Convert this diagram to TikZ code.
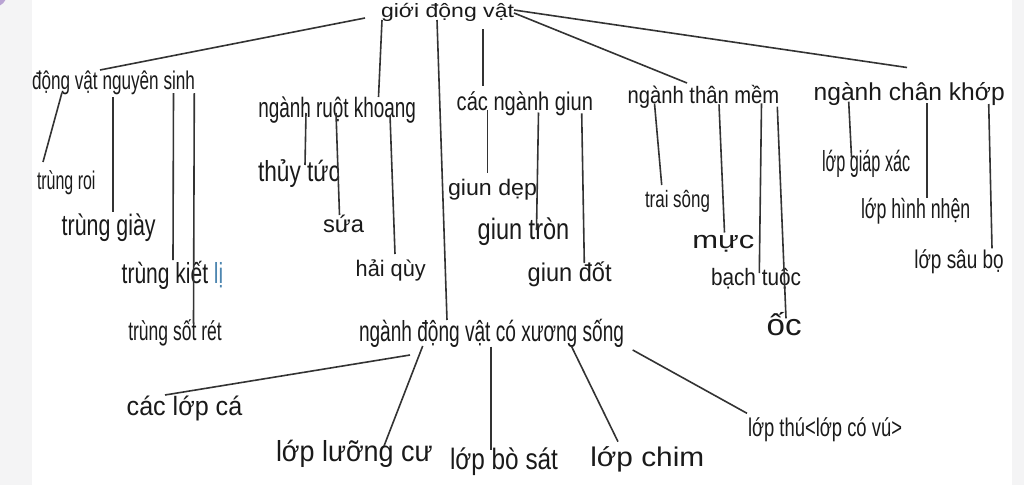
\documentclass[tikz,border=0pt]{standalone}
\usepackage{fontspec}
\setmainfont{Liberation Sans}
\usepackage{graphicx}
\definecolor{txt}{HTML}{1A1A1A}
\definecolor{ln}{HTML}{333333}
\definecolor{bg}{HTML}{F4F4F5}
\definecolor{lblue}{HTML}{4D86B0}
\definecolor{lav}{HTML}{B9A3D3}
\newcommand\lab[3]{\resizebox{#2pt}{\height}{\fontsize{#1pt}{#1pt}\selectfont #3}}
\begin{document}
\begin{tikzpicture}[x=1pt,y=-1pt,
  lbl/.style={anchor=base west, inner sep=0pt, outer sep=0pt, text=txt},
  conn/.style={draw=ln, line width=1.6pt}]
\useasboundingbox (0,0) rectangle (1024,485);
\fill[bg] (0,0) rectangle (1024,485);
\fill[white] (32,0) rectangle (1012,485);
\begin{scope}
\clip (0,0) rectangle (1024,485);
\fill[lav] (-6,-6) circle (13);
\end{scope}

% nodes
\node[lbl] (gioi) at (381,17) {\lab{19.3}{133}{giới động vật}};
\node[lbl] (ns) at (32,89) {\lab{25.6}{163}{động vật nguyên sinh}};
\node[lbl] (roi) at (37,189) {\lab{25.6}{58.5}{trùng roi}};
\node[lbl] (giay) at (61.7,235) {\lab{29.5}{94}{trùng giày}};
\node[lbl] (kiet) at (121.7,283.3) {\lab{29}{101.6}{trùng kiết \textcolor{lblue}{lị}}};
\node[lbl] (sot) at (128.3,340) {\lab{27}{93.4}{trùng sốt rét}};
\node[lbl] (rk) at (258.3,117.3) {\lab{28}{157.7}{ngành ruột khoang}};
\node[lbl] (thuy) at (258,181.7) {\lab{29}{82}{thủy tức}};
\node[lbl] (sua) at (323,232) {\lab{23.7}{41}{sứa}};
\node[lbl] (hq) at (355.7,276.7) {\lab{22.5}{70}{hải qùy}};
\node[lbl] (cng) at (456.7,110) {\lab{25.6}{136.3}{các ngành giun}};
\node[lbl] (dep) at (448,195) {\lab{22.5}{89}{giun dẹp}};
\node[lbl] (tron) at (477.7,239.3) {\lab{29.5}{91.6}{giun tròn}};
\node[lbl] (dot) at (527.7,281.7) {\lab{25.6}{84}{giun đốt}};
\node[lbl] (xs) at (359,341) {\lab{29}{265}{ngành động vật có xương sống}};
\node[lbl] (tm) at (627.7,103.3) {\lab{23.7}{151.6}{ngành thân mềm}};
\node[lbl] (trai) at (645,207.3) {\lab{23.7}{65}{trai sông}};
\node[lbl] (muc) at (692.3,248.3) {\lab{24.5}{62}{mực}};
\node[lbl] (bach) at (711,285) {\lab{23.7}{90}{bạch tuộc}};
\node[lbl] (oc) at (766.7,335) {\lab{30}{35}{ốc}};
\node[lbl] (ck) at (813.7,100) {\lab{24.5}{191}{ngành chân khớp}};
\node[lbl] (gx) at (822,171.7) {\lab{29}{88.3}{lớp giáp xác}};
\node[lbl] (hn) at (861,218.3) {\lab{27.5}{109.3}{lớp hình nhện}};
\node[lbl] (sb) at (914.3,268.3) {\lab{25.6}{89.4}{lớp sâu bọ}};
\node[lbl] (ca) at (126.7,415) {\lab{26.5}{115.6}{các lớp cá}};
\node[lbl] (lc) at (276,461.7) {\lab{29}{156.7}{lớp lưỡng cư}};
\node[lbl] (bs) at (450,469.3) {\lab{29.5}{108}{lớp bò sát}};
\node[lbl] (chim) at (590.3,466.7) {\lab{27}{114}{lớp chim}};
\node[lbl] (thu) at (748,436.7) {\lab{25.6}{154}{lớp thú<lớp có vú>}};

% connectors
\draw[conn] ([shift={(-16,1)}]gioi.base west) -- ([shift={(68,-19)}]ns.base west);
\draw[conn] ([shift={(1,3)}]gioi.base west) -- ([shift={(120.2,-20.3)}]rk.base west);
\draw[conn] ([shift={(56,3)}]gioi.base west) -- ([shift={(88,-21)}]xs.base west);
\draw[conn] ([shift={(102,12)}]gioi.base west) -- ([shift={(26.3,-24)}]cng.base west);
\draw[conn] ([shift={(133,-4)}]gioi.base west) -- ([shift={(59.3,-20.3)}]tm.base west);
\draw[conn] ([shift={(133,-7)}]gioi.base west) -- ([shift={(93.3,-32.5)}]ck.base west);

\draw[conn] ([shift={(30,3.5)}]ns.base west) -- ([shift={(6,-27)}]roi.base west);
\draw[conn] ([shift={(80.7,8)}]ns.base west) -- ([shift={(51,-23)}]giay.base west);
\draw[conn] ([shift={(141.5,4)}]ns.base west) -- ([shift={(51.3,-23.3)}]kiet.base west);
\draw[conn] ([shift={(162.3,4)}]ns.base west) -- ([shift={(65.2,-16.5)}]sot.base west);

\draw[conn] ([shift={(47.7,-4.3)}]rk.base west) -- ([shift={(47,-16.7)}]thuy.base west);
\draw[conn] ([shift={(77.7,-4.3)}]rk.base west) -- ([shift={(16.5,-17)}]sua.base west);
\draw[conn] ([shift={(131.7,-2.3)}]rk.base west) -- ([shift={(39.3,-22.7)}]hq.base west);

\draw[conn] ([shift={(30.8,0)}]cng.base west) -- ([shift={(39.5,-21.7)}]dep.base west);
\draw[conn] ([shift={(81.8,2.5)}]cng.base west) -- ([shift={(58.8,-9.3)}]tron.base west);
\draw[conn] ([shift={(125,3.3)}]cng.base west) -- ([shift={(56.6,-18.7)}]dot.base west);

\draw[conn] ([shift={(26.8,0.2)}]tm.base west) -- ([shift={(16.7,-22.3)}]trai.base west);
\draw[conn] ([shift={(91.3,1)}]tm.base west) -- ([shift={(32.2,-15.8)}]muc.base west);
\draw[conn] ([shift={(133.8,0)}]tm.base west) -- ([shift={(48.3,-12)}]bach.base west);
\draw[conn] ([shift={(149.6,3.4)}]tm.base west) -- ([shift={(19.3,-16.7)}]oc.base west);

\draw[conn] ([shift={(35,1.7)}]ck.base west) -- ([shift={(29.5,-14.7)}]gx.base west);
\draw[conn] ([shift={(113.3,3.3)}]ck.base west) -- ([shift={(66,-20)}]hn.base west);
\draw[conn] ([shift={(175,4)}]ck.base west) -- ([shift={(77.7,-20)}]sb.base west);

\draw[conn] ([shift={(51,14)}]xs.base west) -- ([shift={(38.3,-20)}]ca.base west);
\draw[conn] ([shift={(63.7,5)}]xs.base west) -- ([shift={(108,-15.7)}]lc.base west);
\draw[conn] ([shift={(131.7,5.7)}]xs.base west) -- ([shift={(40.7,-19.3)}]bs.base west);
\draw[conn] ([shift={(212.3,5)}]xs.base west) -- ([shift={(27.7,-25)}]chim.base west);
\draw[conn] ([shift={(273.7,9)}]xs.base west) -- ([shift={(-1,-23.4)}]thu.base west);
\end{tikzpicture}
\end{document}
